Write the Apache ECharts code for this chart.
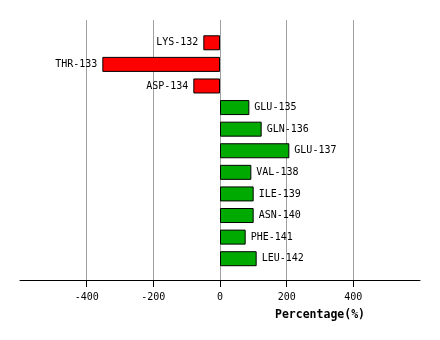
<!DOCTYPE html>
<html>
<head>
<meta charset="utf-8">
<script src="https://cdn.jsdelivr.net/npm/echarts@6/dist/echarts.min.js"></script>
<style>
  html, body { margin: 0; padding: 0; background: #fff; }
  #chart { width: 440px; height: 340px; }
</style>
</head>
<body>
<div id="chart"></div>
<script>
// Residues and their percentage change
const residues = ['LYS-132', 'THR-133', 'ASP-134', 'GLU-135', 'GLN-136', 'GLU-137',
                  'VAL-138', 'ILE-139', 'ASN-140', 'PHE-141', 'LEU-142'];
const percentages = [-50, -353, -80, 88, 125, 208, 94, 101, 101, 77, 110];
const tickValues = [-400, -200, 0, 200, 400];
const axisTitle = 'Percentage(%)';

const MONO = '"DejaVu Sans Mono", "Liberation Mono", monospace';

const barData = percentages.map(function (v) {
  const neg = v < 0;
  return {
    value: v,
    itemStyle: { color: neg ? '#ff0000' : '#00aa00' },
    label: { position: neg ? 'left' : 'right' }
  };
});

const chart = echarts.init(document.getElementById('chart'), null, { renderer: 'canvas' });
chart.setOption({
  animation: false,
  backgroundColor: '#ffffff',
  grid: [
    // frame grid: axis line, ticks and vertical grid lines
    { left: 20, right: 20, top: 20, bottom: 60 },
    // bar grid
    { left: 20, right: 20, top: 32, bottom: 70.5 }
  ],
  xAxis: [
    {
      gridIndex: 0,
      type: 'value',
      min: -600,
      max: 600,
      interval: 200,
      axisLine: { show: true, onZero: false, lineStyle: { color: '#000', width: 1 } },
      axisTick: { show: true, length: 7, customValues: tickValues, lineStyle: { color: '#000' } },
      axisLabel: {
        customValues: tickValues,
        margin: 12,
        color: '#000',
        fontFamily: MONO,
        fontSize: 10
      },
      splitLine: {
        show: true,
        lineStyle: { color: '#a0a0a0', width: 1 }
      }
    },
    {
      gridIndex: 1,
      type: 'value',
      min: -600,
      max: 600,
      show: false
    }
  ],
  yAxis: [
    { gridIndex: 0, type: 'value', min: 0, max: 1, show: false },
    {
      gridIndex: 1,
      type: 'category',
      data: residues,
      inverse: true,
      show: false
    }
  ],
  series: [
    {
      type: 'bar',
      xAxisIndex: 1,
      yAxisIndex: 1,
      data: barData,
      barWidth: 15,
      itemStyle: { borderColor: '#000', borderWidth: 1, borderRadius: 0 },
      label: {
        show: true,
        distance: 5,
        color: '#000',
        fontFamily: MONO,
        fontSize: 10,
        formatter: function (p) { return p.name; }
      }
    }
  ],
  graphic: [
    {
      type: 'text',
      left: 275,
      top: 309,
      style: {
        text: axisTitle,
        fill: '#000',
        font: 'bold 11.5px ' + MONO
      }
    }
  ]
});
</script>
</body>
</html>
